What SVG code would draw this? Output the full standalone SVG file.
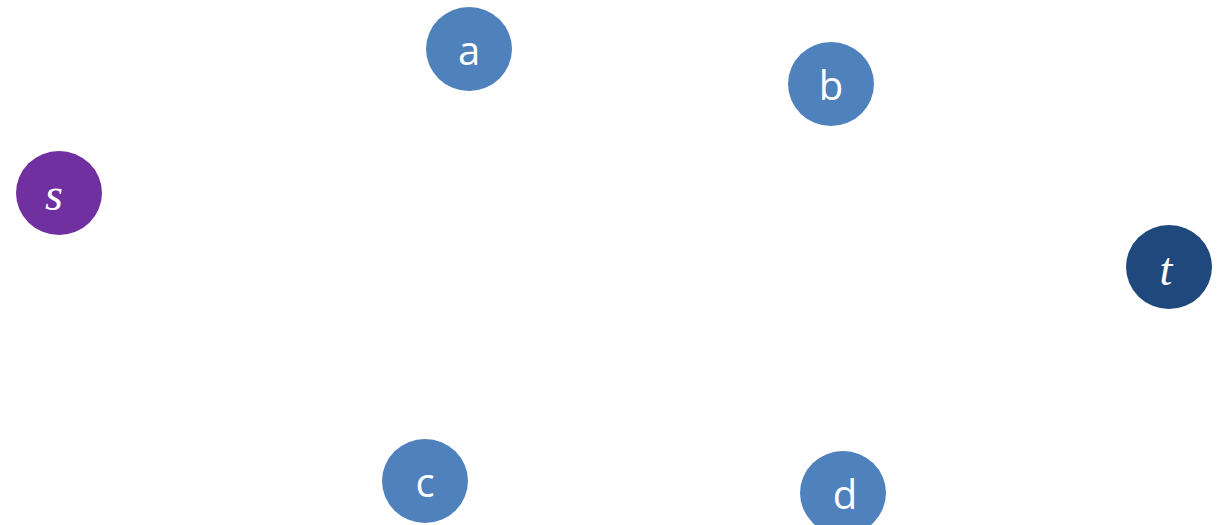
<svg xmlns="http://www.w3.org/2000/svg" width="1228" height="525" viewBox="0 0 1228 525">
<style>
.blue{fill:#4F81BD}
.lbl{fill:#fff;font-family:"Open Sans","Liberation Sans",sans-serif;font-size:40px;text-anchor:middle}
.math{fill:#fff;font-family:"Liberation Serif","DejaVu Serif",serif;font-style:italic;font-size:46px;text-anchor:middle}
</style>
<rect width="1228" height="525" fill="#fff"/>
<g id="connectors"></g>
<g id="node-s"><ellipse cx="59" cy="193" rx="43" ry="42" fill="#7030A0"/><text class="math" x="54" y="210">s</text></g>
<g id="node-a"><ellipse class="blue" cx="469" cy="49" rx="43" ry="42"/><text class="lbl" x="469" y="65">a</text></g>
<g id="node-b"><ellipse class="blue" cx="831" cy="84" rx="43" ry="42"/><text class="lbl" x="831" y="100">b</text></g>
<g id="node-t"><ellipse cx="1169" cy="267" rx="43" ry="42" fill="#1F497D"/><text class="math" x="1166" y="285">t</text></g>
<g id="node-c"><ellipse class="blue" cx="425" cy="481" rx="43" ry="42"/><text class="lbl" x="425" y="497">c</text></g>
<g id="node-d"><ellipse class="blue" cx="843" cy="493" rx="43" ry="42"/><text class="lbl" x="845" y="509">d</text></g>
</svg>
